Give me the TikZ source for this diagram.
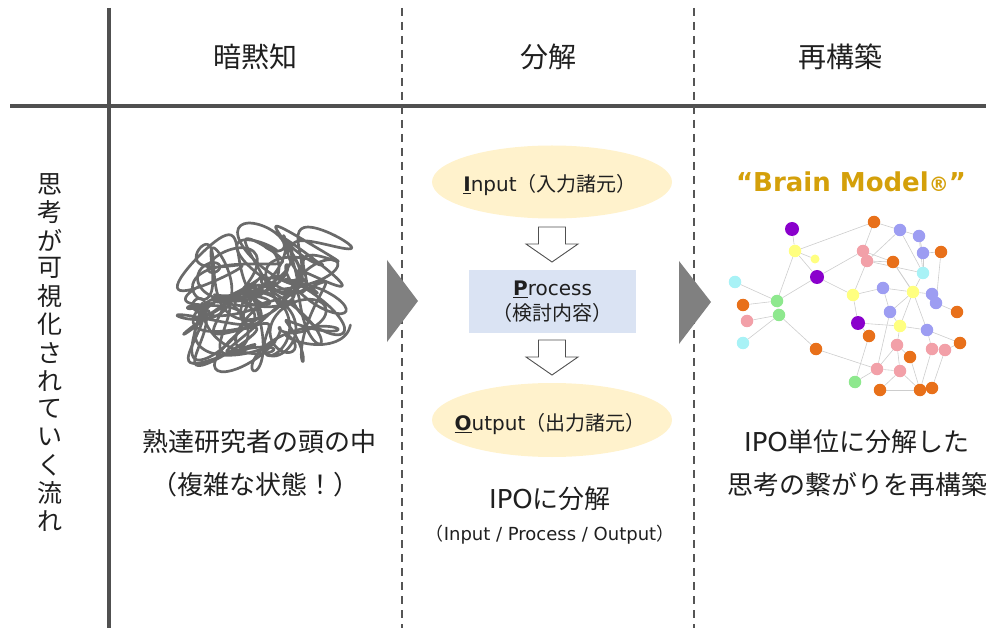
\documentclass[tikz,border=0pt]{standalone}
\usepackage{fontspec}
\setmainfont{Noto Sans CJK JP}
\newfontfamily\latin{DejaVu Sans}
\usetikzlibrary{shapes.geometric,backgrounds}

\definecolor{linegray}{HTML}{505050}
\definecolor{dashgray}{HTML}{555555}
\definecolor{chevgray}{HTML}{808080}
\definecolor{scribgray}{HTML}{6A6A6A}
\definecolor{ink}{HTML}{1F1F1F}
\definecolor{inputfill}{HTML}{FFF2CC}
\definecolor{procfill}{HTML}{DAE3F3}
\definecolor{gold}{HTML}{D4A00A}
\definecolor{edgegray}{HTML}{CDCDCD}
\definecolor{npurple}{HTML}{8A00CC}
\definecolor{norange}{HTML}{E8701A}
\definecolor{nblue}{HTML}{9D9DF2}
\definecolor{npink}{HTML}{F2A0A8}
\definecolor{ncyan}{HTML}{A8F2F6}
\definecolor{ngreen}{HTML}{8EE88E}
\definecolor{nyellow}{HTML}{FFFF80}

% bold letter with a thick underline
\newcommand{\keyletter}[1]{\setbox0\hbox{\textbf{#1}}\rlap{\rule[-3pt]{\wd0}{1.8pt}}\box0}

\tikzset{
  frame/.style={draw=linegray, line width=3.8pt},
  divider/.style={draw=dashgray, line width=1.6pt, dash pattern=on 8pt off 6pt},
  chevron/.style={fill=chevgray, draw=none},
  hdr/.style={font=\fontsize{28}{32}\selectfont, text=ink},
  body/.style={font=\fontsize{26}{30}\selectfont, text=ink},
  vtext/.style={font=\fontsize{25}{28}\selectfont, text=ink, inner sep=0pt},
  ipotext/.style={font=\fontsize{20}{25}\selectfont, text=ink, align=center},
  blockarrow/.style={draw=linegray, fill=white, line width=0.9pt, line join=miter},
  scribble/.style={draw=scribgray, line width=2.7pt, line cap=round, line join=round},
  nd/.style={circle, inner sep=0pt, minimum size=12.5pt},
  ndp/.style={nd, fill=npurple, minimum size=14pt},
  ndo/.style={nd, fill=norange},
  ndb/.style={nd, fill=nblue},
  ndk/.style={nd, fill=npink},
  ndc/.style={nd, fill=ncyan},
  ndg/.style={nd, fill=ngreen},
  ndy/.style={nd, fill=nyellow},
  edge/.style={draw=edgegray, line width=0.6pt},
}

\begin{document}
\begin{tikzpicture}[x=1pt, y=-1pt]
\useasboundingbox (0,0) rectangle (996,628);

% grid of the table
\draw[frame] (109,8) -- (109,628);
\draw[frame] (10,106) -- (986,106);
\draw[divider] (402,8) -- (402,628);
\draw[divider] (694,8) -- (694,628);

% column headers
\node[hdr] (h1) at (255,57) {暗黙知};
\node[hdr] (h2) at (548,57) {分解};
\node[hdr] (h3) at (840,57) {再構築};

% row label, set vertically
\foreach \c [count=\i] in {思,考,が,可,視,化,さ,れ,て,い,く,流,れ}
  \node[vtext] (v\i) at (50,{184+28.1*(\i-1)}) {\c};

% flow chevrons between the columns
\fill[chevron] (387,260) -- (418,301) -- (387,342) -- cycle;
\fill[chevron] (679,261) -- (711,302) -- (679,344) -- cycle;

% tangled thought: a wandering pen with uneven, stretched loops
\draw[scribble] plot[smooth, domain=0:900, samples=1000, variable=\t]
  ({262+48*cos(1.3*\t)+26*cos(7.1*\t+20)+16*cos(16.9*\t)},
   {296+40*sin(1.1*\t+30)+24*sin(6.3*\t)+14*sin(15.7*\t+40)});
\draw[scribble] plot[smooth, domain=0:500, samples=560, variable=\t]
  ({258+52*cos(1.7*\t+100)+24*cos(8.3*\t)+14*cos(14.1*\t+60)},
   {302+38*sin(1.4*\t+200)+22*sin(7.7*\t+50)+14*sin(13.3*\t)});

\node[body] (t1) at (259,442) {熟達研究者の頭の中};
\node[body] (t2) at (255,485) {（複雑な状態！）};

% IPO decomposition
\node[ellipse, fill=inputfill, minimum width=240pt, minimum height=73pt, inner sep=0pt] (inp) at (552,182) {};
\node[ipotext] (inplbl) at (550,185) {{\latin\keyletter{I}nput}（入力諸元）};

\node[rectangle, fill=procfill, minimum width=167pt, minimum height=63pt, inner sep=0pt, ipotext] (proc) at (552.5,301.5)
  {{\latin\keyletter{P}rocess}\\（検討内容）};

\node[ellipse, fill=inputfill, minimum width=240pt, minimum height=74pt, inner sep=0pt] (outp) at (552,420) {};
\node[ipotext] (outlbl) at (550,424) {{\latin\keyletter{O}utput}（出力諸元）};

\draw[blockarrow] (538.5,227) -- (565.5,227) -- (565.5,244) -- (578,244) -- (552,262)
  -- (526,244) -- (538.5,244) -- cycle;
\draw[blockarrow] (538.5,340) -- (565.5,340) -- (565.5,357) -- (578,357) -- (552,375)
  -- (526,357) -- (538.5,357) -- cycle;

\node[body] (ipo) at (550,499) {{\latin IPO}に分解};
\node[font=\fontsize{18}{22}\selectfont, text=ink] (ipofull) at (550,535)
  {（{\latin Input / Process / Output}）};

% reconstructed network
\node[font=\latin\bfseries\fontsize{26}{30}\selectfont, text=gold] (brain) at (851,182)
  {“Brain Model{\fontsize{20}{20}\selectfont ®}”};

\node[ndp] (a1) at (792,229) {};
\node[ndy] (a2) at (795,251) {};
\node[ndy, minimum size=9pt] (a3) at (815,259) {};
\node[ndp] (a4) at (817,277) {};
\node[ndc] (a5) at (735,282) {};
\node[ndg] (a6) at (777,301) {};
\node[ndo] (a7) at (743,305) {};
\node[ndg] (a8) at (779,315) {};
\node[ndk] (a9) at (747,321) {};
\node[ndc] (a10) at (743,343) {};
\node[ndo] (a11) at (816,349) {};
\node[ndo] (b1) at (874,222) {};
\node[ndb] (b2) at (900,230) {};
\node[ndb] (b3) at (919,236) {};
\node[ndk] (b4) at (863,251) {};
\node[ndk] (b5) at (867,261) {};
\node[ndo] (b6) at (893,262) {};
\node[ndb] (b7) at (923,253) {};
\node[ndo] (b8) at (941,252) {};
\node[ndc] (b9) at (923,273) {};
\node[ndy] (c1) at (853,295) {};
\node[ndb] (c2) at (883,288) {};
\node[ndy] (c3) at (913,292) {};
\node[ndb] (c4) at (932,294) {};
\node[ndb] (c5) at (936,303) {};
\node[ndo] (c6) at (957,312) {};
\node[ndb] (c7) at (890,312) {};
\node[ndp] (c8) at (858,323) {};
\node[ndo] (c9) at (869,336) {};
\node[ndy] (c10) at (900,326) {};
\node[ndb] (c11) at (927,330) {};
\node[ndk] (d1) at (897,345) {};
\node[ndo] (d2) at (910,357) {};
\node[ndk] (d3) at (932,349) {};
\node[ndk] (d4) at (945,350) {};
\node[ndo] (d5) at (960,343) {};
\node[ndk] (d6) at (877,369) {};
\node[ndk] (d7) at (900,371) {};
\node[ndg] (d8) at (855,382) {};
\node[ndo] (d9) at (880,390) {};
\node[ndo] (d10) at (920,390) {};
\node[ndo] (d11) at (932,388) {};

\begin{pgfonlayer}{background}
\foreach \a/\b in {a1/a2, a2/a3, a2/a6, a2/b1, a4/a6, a4/b4, a4/c1, a5/a6, a7/a6,
  a6/a8, a9/a8, a10/a8, a8/a11, a11/d6, d6/d8, d6/d7, b1/b4, b1/b2, b2/b3, b2/b5,
  b3/b7, b7/b8, b7/b9, b4/b5, b5/b6, b5/c1, b5/b9, c1/c2, c1/c8, c2/c3, c3/c4,
  c3/c7, c3/b9, c3/b6, c3/c10, c3/c11, c4/c5, c5/c6, c8/c9, c8/c10, c10/c11,
  c10/d1, c11/d3, c11/d5, d1/d2, d1/d7, d3/d4, d3/d10, d4/d11, d2/d10, d7/d9,
  d7/d10, c7/d6, b8/c5, b3/b9, c9/d8, b4/b6, b2/b9, c7/c10, c2/c7, d1/d6,
  d4/d5, d9/d10, a2/a4, b6/c3}
  \draw[edge] (\a) -- (\b);
\end{pgfonlayer}

\node[body] (r1) at (857,442) {{\latin IPO}単位に分解した};
\node[body] (r2) at (857,485) {思考の繋がりを再構築};
\end{tikzpicture}
\end{document}
